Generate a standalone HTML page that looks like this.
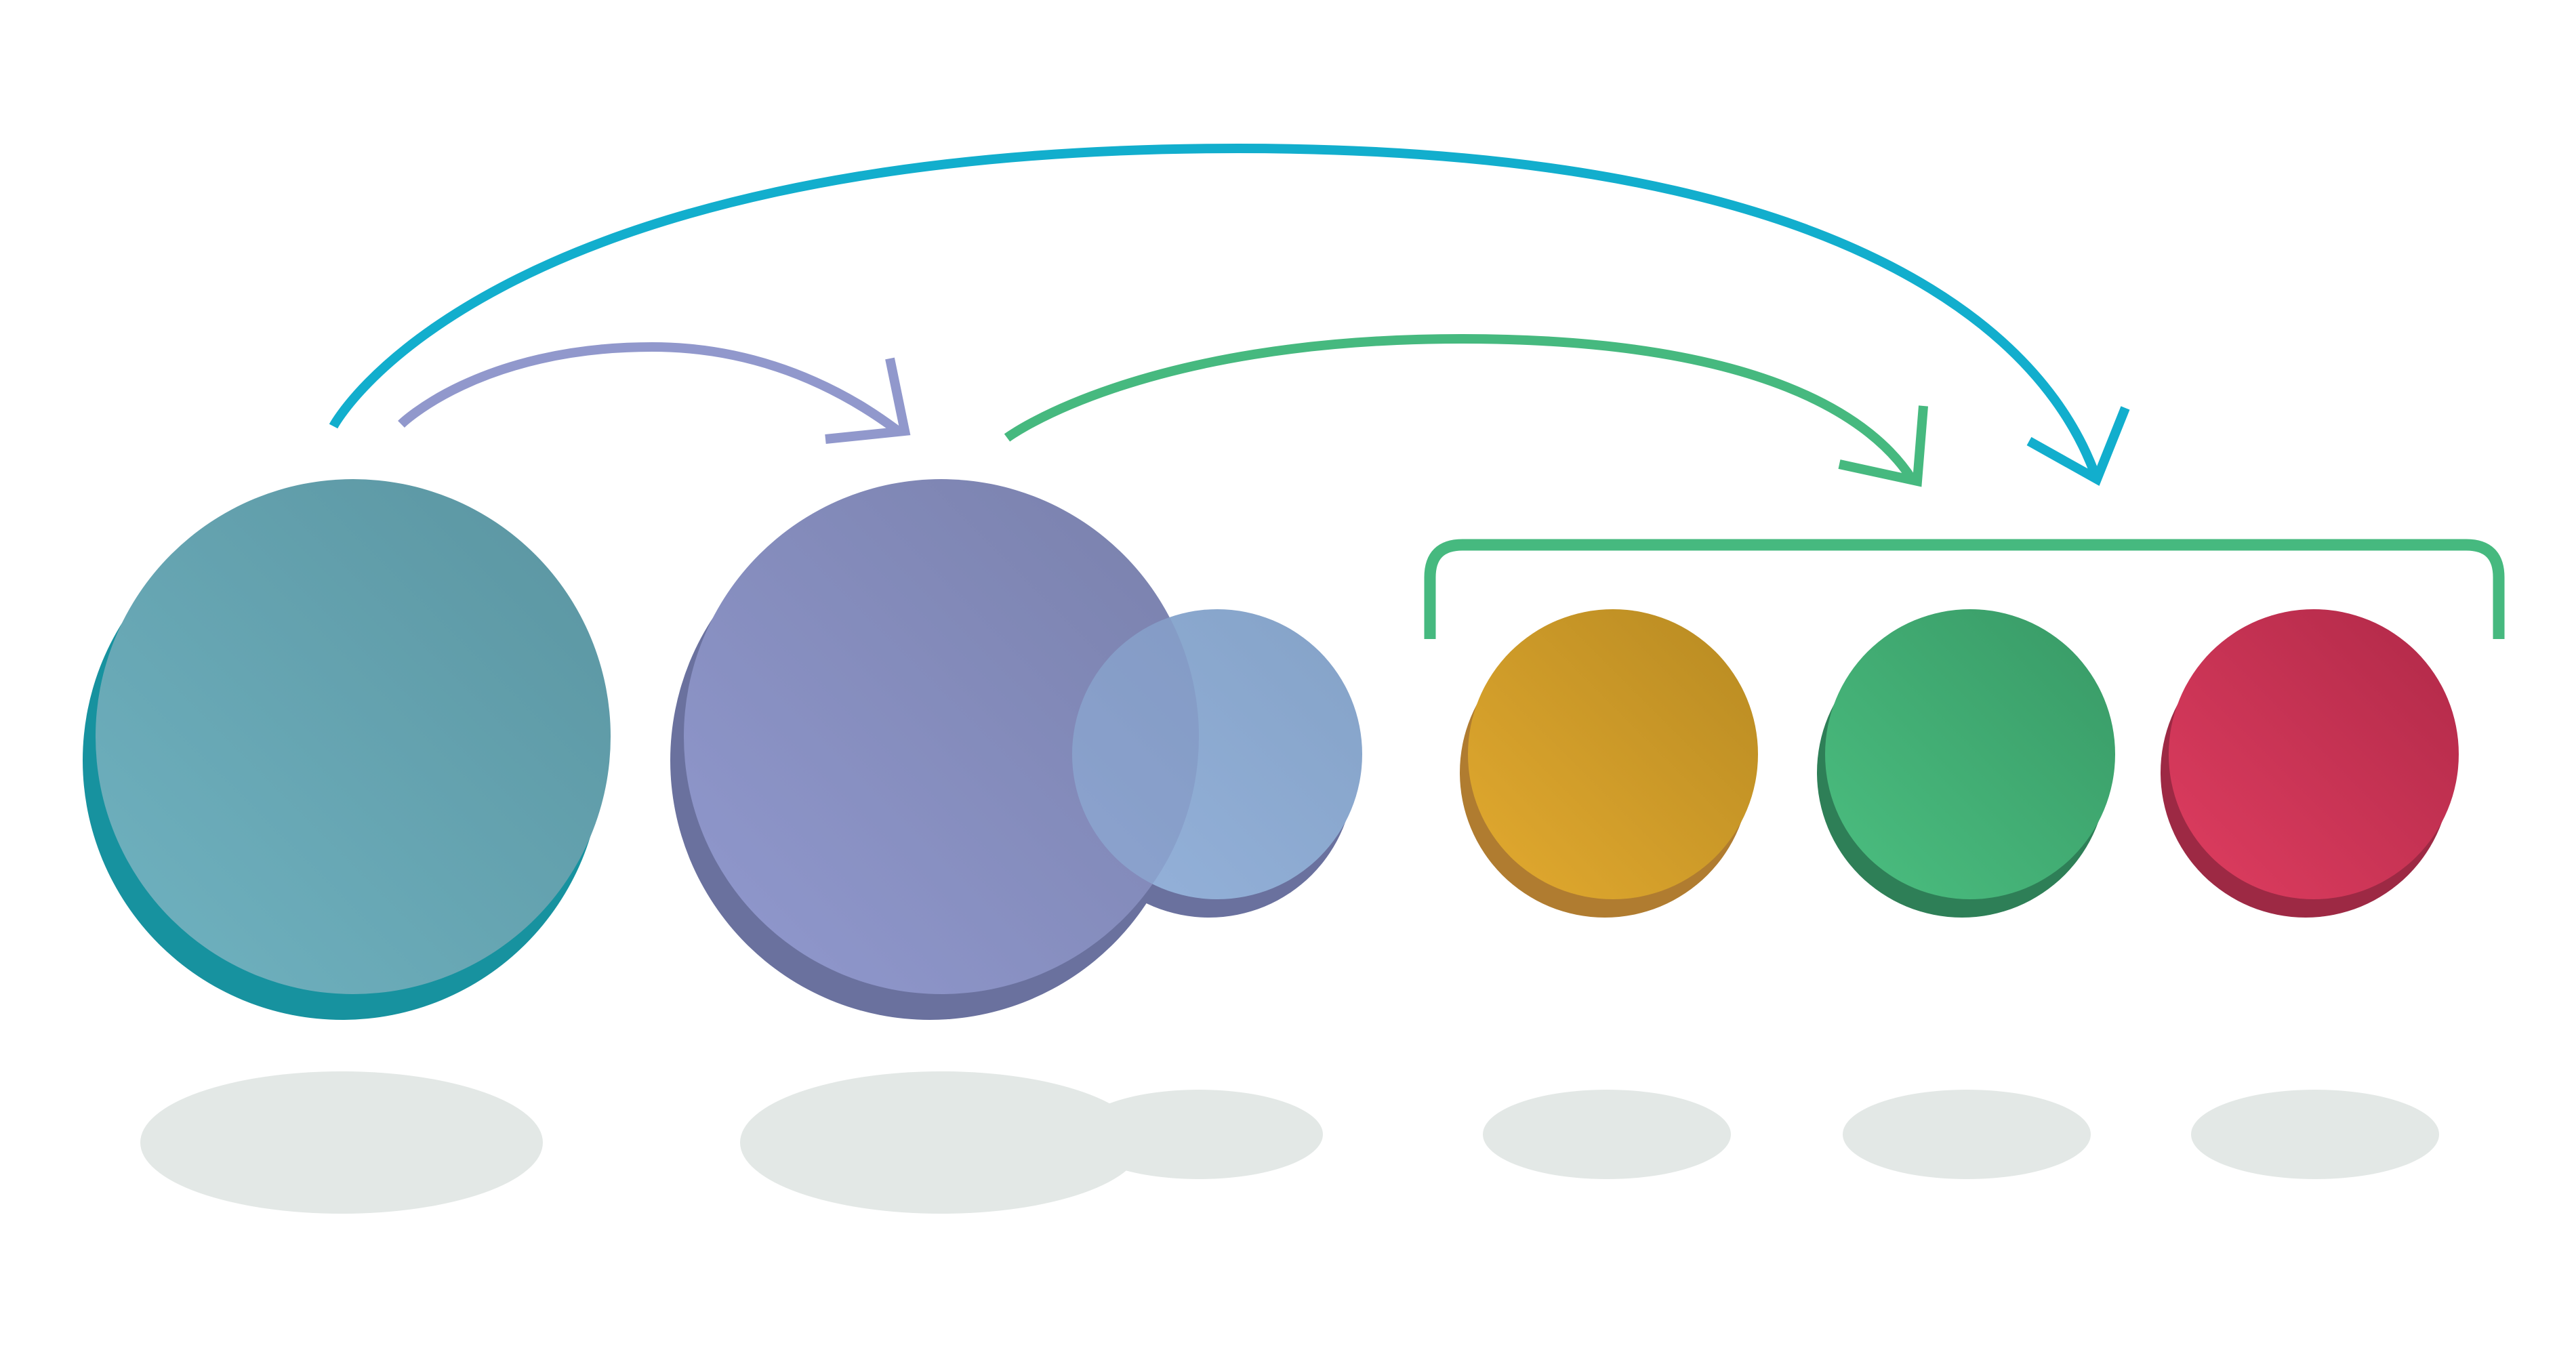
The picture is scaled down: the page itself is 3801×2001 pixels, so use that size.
<!DOCTYPE html>
<html><head><meta charset="utf-8"><style>html,body{margin:0;padding:0;background:#fff}svg{display:block}</style></head>
<body>
<svg width="3801" height="2001" viewBox="0 0 3801 2001" xmlns="http://www.w3.org/2000/svg">
<defs>
<linearGradient id="gT" x1="0" y1="1" x2="1" y2="0"><stop offset="0" stop-color="#70b3c1"/><stop offset="1" stop-color="#5a94a0"/></linearGradient>
<linearGradient id="gP" x1="0" y1="1" x2="1" y2="0"><stop offset="0" stop-color="#9199cf"/><stop offset="1" stop-color="#7980ab"/></linearGradient>
<linearGradient id="gB" x1="0" y1="1" x2="1" y2="0"><stop offset="0" stop-color="#95b2db"/><stop offset="1" stop-color="#84a2c7"/></linearGradient>
<linearGradient id="gO" x1="0" y1="1" x2="1" y2="0"><stop offset="0" stop-color="#e3aa2f"/><stop offset="1" stop-color="#b78a22"/></linearGradient>
<linearGradient id="gG" x1="0" y1="1" x2="1" y2="0"><stop offset="0" stop-color="#4bbf80"/><stop offset="1" stop-color="#389966"/></linearGradient>
<linearGradient id="gR" x1="0" y1="1" x2="1" y2="0"><stop offset="0" stop-color="#df3d60"/><stop offset="1" stop-color="#b02948"/></linearGradient>
<clipPath id="cB"><circle cx="1796" cy="1113" r="214"/></clipPath>
</defs>
<g fill="#e3e8e6">
<ellipse cx="504" cy="1686" rx="297" ry="105"/>
<ellipse cx="1389" cy="1686" rx="297" ry="105"/>
<ellipse cx="1769" cy="1674" rx="183" ry="66"/>
<ellipse cx="2371" cy="1674" rx="183" ry="66"/>
<ellipse cx="2902" cy="1674" rx="183" ry="66"/>
<ellipse cx="3416" cy="1674" rx="183" ry="66"/>
</g>
<circle cx="505" cy="1122" r="383" fill="#17929f"/>
<circle cx="521" cy="1087" r="380" fill="url(#gT)"/>
<circle cx="1372" cy="1122" r="383" fill="#6a719e"/>
<circle cx="1784" cy="1140" r="214" fill="#6a719e"/>
<circle cx="1389" cy="1087" r="380" fill="url(#gP)"/>
<circle cx="1796" cy="1113" r="214" fill="url(#gB)"/>
<circle cx="1389" cy="1087" r="380" fill="#7a86b8" opacity="0.35" clip-path="url(#cB)"/>
<circle cx="2368" cy="1140" r="214" fill="#b07c30"/>
<circle cx="2380" cy="1113" r="214" fill="url(#gO)"/>
<circle cx="2895" cy="1140" r="214" fill="#2e7f57"/>
<circle cx="2907" cy="1113" r="214" fill="url(#gG)"/>
<circle cx="3402" cy="1140" r="214" fill="#9d2944"/>
<circle cx="3414" cy="1113" r="214" fill="url(#gR)"/>
<path d="M2110,943 V852 Q2110,804 2158,804 H3639 Q3687,804 3687,852 V943" fill="none" stroke="#46b97f" stroke-width="17"/>
<g fill="none" stroke-width="14">
<path d="M492,629 C492,629 707,219 1827,219 C2899,219 3058,609 3094,707" stroke="#12aecd"/>
<path d="M2994,651 L3094,707 L3136,602" stroke="#12aecd"/>
<path d="M592,626 C592,626 707,512 962,512 C1170,512 1304,621 1328,638" stroke="#9198cc"/>
<path d="M1218,648 L1335,636 L1313,529" stroke="#9198cc"/>
<path d="M1486,646 C1486,646 1681,500 2156,500 C2607,500 2766,621 2821,707" stroke="#46b97f"/>
<path d="M2714,685 L2829,710 L2838,599" stroke="#46b97f"/>
</g>
</svg>
</body></html>
